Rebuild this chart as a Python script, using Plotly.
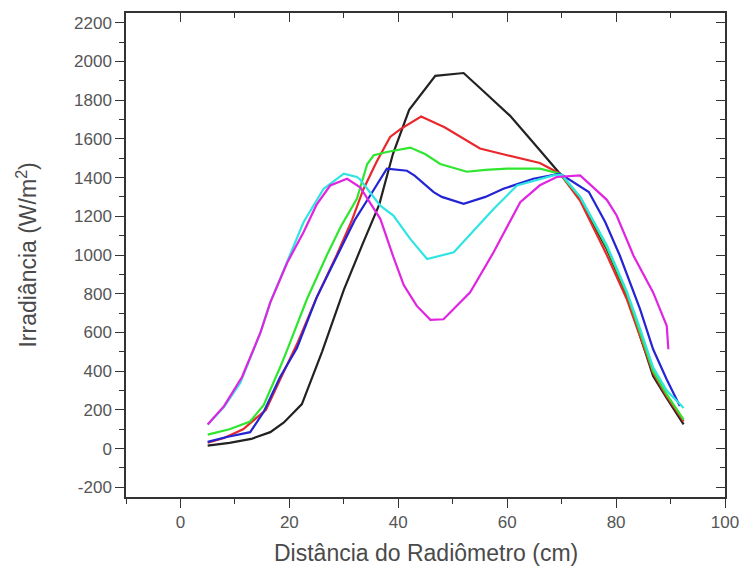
import plotly.graph_objects as go

# ---- data ----
x_black = [5, 9, 13, 16.5, 19, 22.3, 26, 30, 33.5, 36.5, 39, 42, 46.8, 52, 55.5, 60.5, 64.5, 69.7, 73.4, 78.3, 82, 84.5, 86.8, 89.3, 92.4]
y_black = [15, 30, 50, 85, 135, 230, 500, 820, 1060, 1260, 1520, 1750, 1925, 1940, 1850, 1720, 1590, 1420, 1290, 1030, 790, 570, 375, 260, 125]

x_red = [5, 8, 11.5, 15.7, 18.3, 21.4, 25, 28.7, 31.5, 33.6, 36, 38.5, 40.4, 44.2, 48.5, 52, 55, 60, 66, 69.7, 73.4, 78.3, 82, 84.4, 86.8, 89.3, 92.4]
y_red = [30, 55, 100, 200, 357, 540, 780, 1000, 1180, 1340, 1480, 1610, 1650, 1715, 1660, 1600, 1550, 1515, 1475, 1420, 1280, 1000, 770, 580, 390, 270, 140]

x_green = [5, 9, 12.8, 15.3, 18.3, 19.6, 23.2, 26.9, 29.5, 32.4, 34.3, 35.5, 37.9, 42.2, 45, 47.7, 52.6, 56, 60, 66, 69.7, 73.4, 78.3, 82, 84.4, 86.8, 89.3, 92.4]
y_green = [72, 100, 140, 225, 420, 510, 770, 1000, 1150, 1290, 1470, 1515, 1532, 1555, 1520, 1470, 1430, 1440, 1446, 1446, 1420, 1300, 1040, 800, 600, 400, 280, 150]

x_blue = [5, 8.5, 12.8, 15.3, 18.3, 21.4, 25, 29.4, 32, 34.9, 37.9, 41.6, 43, 46.5, 48, 52, 56, 59.3, 64.8, 69.7, 75, 78, 80.7, 84.4, 86.8, 89.3, 91.7]
y_blue = [35, 60, 85, 190, 370, 520, 780, 1030, 1180, 1310, 1446, 1435, 1410, 1325, 1300, 1264, 1300, 1342, 1394, 1420, 1325, 1170, 996, 720, 513, 357, 220]

x_cyan = [5, 8, 11, 14.7, 16.5, 19.6, 22.6, 26.3, 30, 32.4, 33, 36.7, 39.1, 42.2, 45.3, 50.2, 54, 57.5, 61.8, 68.5, 70, 73.4, 78.3, 82, 84.4, 86.8, 89.3, 92.4]
y_cyan = [125, 215, 340, 600, 755, 970, 1169, 1342, 1420, 1403, 1390, 1255, 1204, 1083, 979, 1014, 1130, 1238, 1359, 1411, 1415, 1300, 1050, 810, 620, 420, 300, 210]

x_magenta = [5, 8, 11.3, 14.7, 16.5, 19.6, 22.6, 25, 27.5, 30.6, 33, 36.7, 39.1, 41, 43.4, 45.9, 48.3, 53.2, 57.5, 62.4, 66, 69.1, 73.4, 78.3, 80.1, 83.2, 86.8, 89.3, 89.6]
y_magenta = [124, 219, 370, 600, 755, 960, 1118, 1260, 1359, 1394, 1350, 1187, 990, 845, 737, 665, 668, 807, 1014, 1273, 1360, 1403, 1411, 1285, 1204, 996, 807, 634, 513]

series = [
    ("black", x_black, y_black, "#222222"),
    ("red", x_red, y_red, "#e8282c"),
    ("green", x_green, y_green, "#2ee62e"),
    ("blue", x_blue, y_blue, "#2424d4"),
    ("cyan", x_cyan, y_cyan, "#30e4e4"),
    ("magenta", x_magenta, y_magenta, "#e024e0"),
]

x_range = [-10, 100]
y_range = [-250, 2250]
x_tickvals = [0, 20, 40, 60, 80, 100]
x_ticktext = ["0", "20", "40", "60", "80", "100"]
y_tickvals = [-200, 0, 200, 400, 600, 800, 1000, 1200, 1400, 1600, 1800, 2000, 2200]
y_ticktext = ["-200", "0", "200", "400", "600", "800", "1000", "1200", "1400", "1600", "1800", "2000", "2200"]

x_title = "Distância do Radiômetro (cm)"
y_title = "Irradiância (W/m<sup>2</sup>)"

fig = go.Figure()
for name, xs, ys, col in series:
    fig.add_trace(go.Scatter(x=xs, y=ys, mode="lines", name=name,
                             line=dict(color=col, width=2.2), showlegend=False,
                             hoverinfo="skip"))

# invisible trace to realise the mirrored (top/right) axes
fig.add_trace(go.Scatter(x=[x_range[0]], y=[y_range[0]], xaxis="x2", yaxis="y2",
                         mode="markers", marker=dict(opacity=0), showlegend=False,
                         hoverinfo="skip"))

axis_col = "#333333"
font_family = "Liberation Sans, Arial, sans-serif"
tick_font = dict(family=font_family, size=17, color="#555555")
title_font = dict(family=font_family, size=23, color="#4a4a4a")

common = dict(showline=True, linecolor=axis_col, linewidth=1.5, showgrid=False,
              zeroline=False, automargin=False, tickwidth=1.3, tickcolor=axis_col,
              ticklen=9)

fig.update_layout(
    width=740, height=569,
    margin=dict(l=126, r=15, t=13, b=72),
    paper_bgcolor="white", plot_bgcolor="white",
    xaxis=dict(range=x_range, tickmode="array", tickvals=x_tickvals, ticktext=x_ticktext,
               ticks="outside",
               minor=dict(dtick=10, tick0=0, ticks="outside", ticklen=5, tickcolor=axis_col, tickwidth=1.3),
               tickfont=tick_font, **common),
    yaxis=dict(range=y_range, tickmode="array", tickvals=y_tickvals, ticktext=y_ticktext,
               ticks="outside",
               minor=dict(dtick=100, tick0=0, ticks="outside", ticklen=5, tickcolor=axis_col, tickwidth=1.3),
               tickfont=tick_font, **common),
    xaxis2=dict(range=x_range, overlaying="x", side="top", anchor="y2",
                tickmode="array", tickvals=x_tickvals, showticklabels=False,
                ticks="inside",
                minor=dict(dtick=10, tick0=0, ticks="inside", ticklen=5, tickcolor=axis_col, tickwidth=1.3),
                **common),
    yaxis2=dict(range=y_range, overlaying="y", side="right", anchor="x2",
                tickmode="array", tickvals=y_tickvals, showticklabels=False,
                ticks="inside",
                minor=dict(dtick=100, tick0=0, ticks="inside", ticklen=5, tickcolor=axis_col, tickwidth=1.3),
                **common),
    annotations=[
        dict(text=x_title, xref="paper", yref="paper", x=0.5, y=-0.116,
             xanchor="center", yanchor="middle", showarrow=False, font=title_font),
        dict(text=y_title, xref="paper", yref="paper", x=-0.166, y=0.5,
             xanchor="center", yanchor="middle", showarrow=False, textangle=-90,
             font=title_font),
    ],
)

fig.write_html(
    "out.html",
    config={"displayModeBar": False},
    post_script="document.body.style.margin='0';document.body.style.overflow='hidden';",
)
